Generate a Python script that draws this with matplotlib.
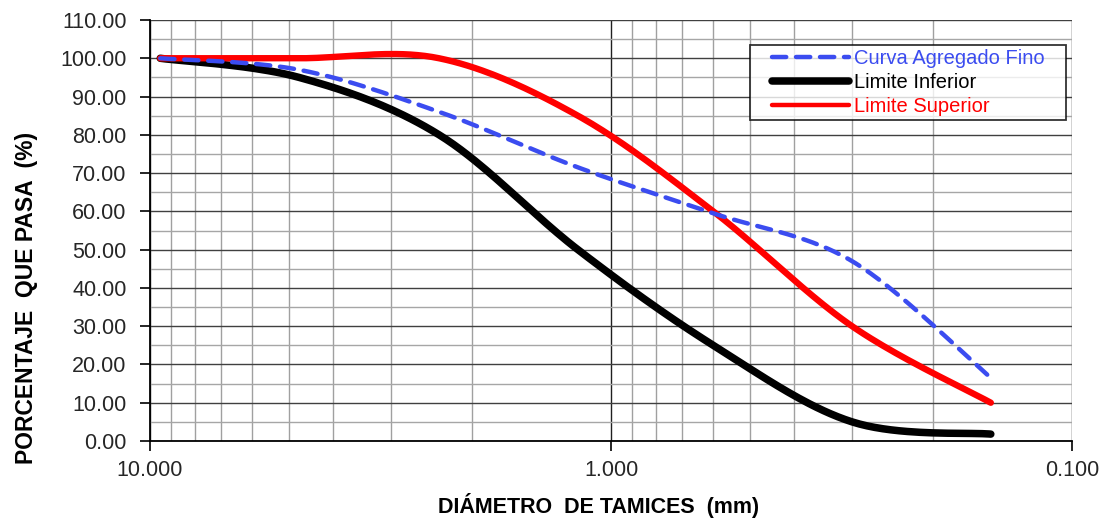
import numpy as np
import matplotlib.pyplot as plt
from matplotlib.ticker import FixedLocator, FixedFormatter, MultipleLocator, NullFormatter
from matplotlib.legend_handler import HandlerLine2D

plt.rcParams['font.family'] = ['Liberation Sans', 'DejaVu Sans']

# abertura de tamices (mm) y porcentaje que pasa
tamices = [9.5, 4.75, 2.36, 1.18, 0.60, 0.30, 0.15]
curva_fino = [100.0, 97.0, 86.0, 71.5, 59.5, 47.0, 16.5]
limite_inferior = [100.0, 95.0, 80.0, 50.0, 25.0, 5.0, 1.8]
limite_superior = [100.0, 100.0, 100.0, 85.0, 60.0, 30.0, 10.0]

y_ticks = np.arange(0, 111, 10)
x_ticks = [10.0, 1.0, 0.1]
x_labels = ['10.000', '1.000', '0.100']

# relacion px por decada / px por unidad de % (para suavizar como excel)
K = 461 / 3.827


def suavizar(x, y, n=40):
    # linea suavizada tipo excel: bezier con puntos de control (P[i+1]-P[i-1])/6
    u = -np.log10(np.asarray(x)) * K
    v = np.asarray(y, dtype=float)
    P = np.column_stack([u, v])
    ext = np.vstack([P[0], P, P[-1]])
    t = np.linspace(0, 1, n)[:, None]
    out = []
    for i in range(len(P) - 1):
        p0, p3 = P[i], P[i + 1]
        c1 = p0 + (ext[i + 2] - ext[i]) / 6
        c2 = p3 - (ext[i + 3] - ext[i + 1]) / 6
        seg = ((1 - t) ** 3) * p0 + 3 * ((1 - t) ** 2) * t * c1 + 3 * (1 - t) * t ** 2 * c2 + t ** 3 * p3
        out.append(seg if i == 0 else seg[1:])
    out = np.vstack(out)
    return 10 ** (-out[:, 0] / K), out[:, 1]


class HandlerPad(HandlerLine2D):
    # deja un margen a la izquierda de la muestra de linea
    def __init__(self, pad=13, **kw):
        super().__init__(**kw)
        self.pad = pad

    def create_artists(self, legend, orig_handle, xdescent, ydescent, width, height, fontsize, trans):
        return super().create_artists(legend, orig_handle, xdescent - self.pad, ydescent,
                                      width - self.pad, height, fontsize, trans)


fig = plt.figure(figsize=(11.07, 5.2), dpi=100)
ax = fig.add_axes([150 / 1107, 1 - 441 / 520, 922 / 1107, 421 / 520])

ax.set_xscale('log')
ax.set_xlim(10, 0.1)
ax.set_ylim(0, 110)

# rejilla
ax.yaxis.set_major_locator(FixedLocator(y_ticks))
ax.yaxis.set_minor_locator(MultipleLocator(5))
ax.grid(True, which='major', axis='y', color='#404040', lw=1.0)
ax.grid(True, which='minor', axis='y', color='#a6a6a6', lw=1.0)
ax.grid(True, which='minor', axis='x', color='#a0a0a0', lw=1.0)
ax.grid(True, which='major', axis='x', color='#202020', lw=1.0)
ax.set_axisbelow(True)

ax.xaxis.set_major_locator(FixedLocator(x_ticks))
ax.xaxis.set_major_formatter(FixedFormatter(x_labels))
ax.xaxis.set_minor_formatter(NullFormatter())
ax.set_yticklabels([f'{v:.2f}' for v in y_ticks])

ax.tick_params(axis='both', which='major', labelsize=15.5, length=7, width=1.2,
               color='black', labelcolor='#262626')
ax.tick_params(axis='both', which='minor', length=0)
ax.tick_params(axis='x', pad=7)
ax.tick_params(axis='y', pad=10)

for s in ['top', 'right']:
    ax.spines[s].set_visible(False)
for s in ['left', 'bottom']:
    ax.spines[s].set_color('black')
    ax.spines[s].set_linewidth(1.3)

xs, ys = suavizar(tamices, limite_inferior)
ax.plot(xs, ys, color='black', lw=5.4, solid_capstyle='round', label='Limite Inferior', zorder=3)
xs, ys = suavizar(tamices, limite_superior)
ax.plot(xs, ys, color='#ff0000', lw=4.6, solid_capstyle='round', label='Limite Superior', zorder=4)
xs, ys = suavizar(tamices, curva_fino)
ax.plot(xs, ys, color='#3b4cf0', lw=3.2, dashes=(3.2, 2.2), dash_capstyle='round',
        label='Curva Agregado Fino', zorder=5)

h, l = ax.get_legend_handles_labels()
orden = [2, 0, 1]
leg = ax.legend([h[i] for i in orden], [l[i] + '   ' for i in orden], loc='upper right',
                bbox_to_anchor=(0.993, 0.94), fontsize=14.5, frameon=True, fancybox=False,
                edgecolor='black', handlelength=4.7, handletextpad=0.25, borderpad=0.2,
                labelspacing=0.24, borderaxespad=0,
                handler_map={hh: HandlerPad() for hh in h})
leg.get_frame().set_linewidth(1.3)
leg.get_lines()[2].set_linewidth(3.2)
colores = ['#3b4cf0', 'black', '#ff0000']
for txt, c in zip(leg.get_texts(), colores):
    txt.set_color(c)

ax.set_xlabel('DIÁMETRO  DE TAMICES  (mm)', fontsize=15.5, fontweight='bold', labelpad=8)
ax.set_ylabel('PORCENTAJE  QUE PASA  (%)', fontsize=16.5, fontweight='bold', labelpad=16)
ax.xaxis.label.set_x(0.486)
ax.yaxis.label.set_y(0.34)

fig.savefig('out.png', dpi=100)
